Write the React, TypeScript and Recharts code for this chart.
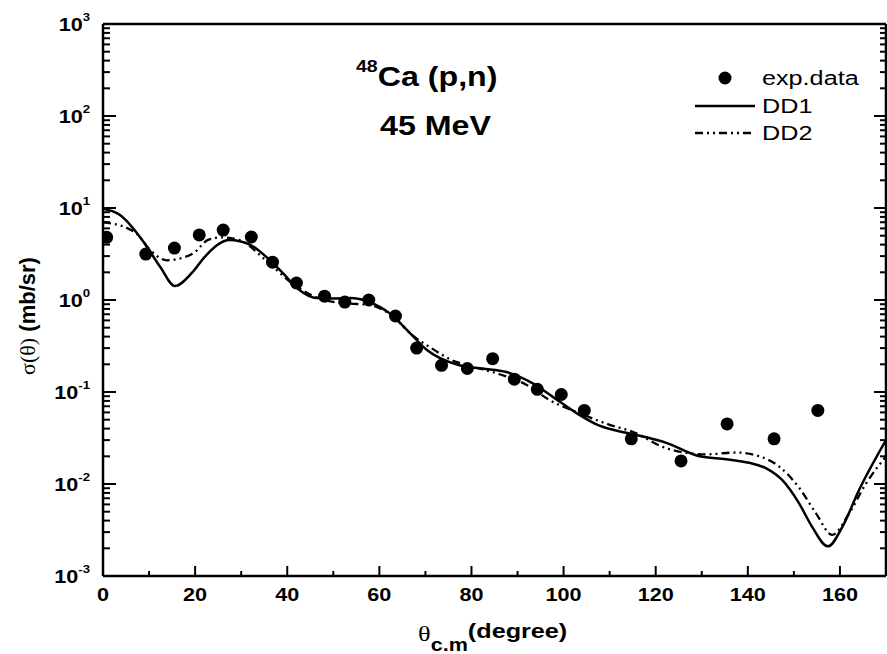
import React from 'react'
import { ComposedChart, Line, Scatter, XAxis, YAxis } from 'recharts'

const expAngle = [0.8, 9.3, 15.5, 20.9, 26.1, 32.2, 36.8, 42, 48.1, 52.5, 57.7, 63.5, 68.1, 73.5, 79.1, 84.6, 89.3, 94.3, 99.5, 104.5, 114.7, 125.5, 135.5, 145.7, 155.2]
const expSigma = [4.8, 3.16, 3.67, 5.1, 5.75, 4.84, 2.58, 1.53, 1.1, 0.95, 1.0, 0.67, 0.3, 0.195, 0.18, 0.23, 0.138, 0.107, 0.094, 0.063, 0.031, 0.0178, 0.045, 0.031, 0.063]

// DD1 (solid)
const dd1Angle = [0, 3.7, 8.5, 12.4, 15.6, 19.3, 22.1, 27.5, 31.9, 35.6, 39, 42.7, 46.4, 50, 53.6, 57.9, 62.2, 66.6, 70.2, 77.4, 82.4, 87.6, 93.2, 97.6, 102.8, 107.8, 113.6, 118.2, 122.3, 129.5, 135.3, 140.3, 144, 147.5, 151.1, 154, 157.4, 160.5, 164.1, 170]
const dd1Sigma = [9.8, 8.4, 4.5, 2.3, 1.42, 1.97, 2.95, 4.5, 4.0, 2.9, 1.97, 1.28, 1.05, 1.04, 1.05, 0.95, 0.72, 0.44, 0.29, 0.195, 0.18, 0.165, 0.125, 0.089, 0.059, 0.043, 0.036, 0.032, 0.028, 0.02, 0.0186, 0.017, 0.0148, 0.011, 0.0062, 0.0034, 0.0021, 0.0034, 0.0085, 0.03]

// DD2 (dash-dot-dot)
const dd2Angle = [0, 5.4, 7.6, 9.8, 13.9, 16.3, 19.9, 22.8, 25.8, 30, 35, 42, 48, 53, 58, 63, 67, 71.3, 75.9, 80, 85.4, 91.9, 96.9, 103.4, 110, 115, 122.3, 131, 137.5, 142.5, 146.8, 151, 154.8, 158.3, 162, 165.6, 170]
const dd2Sigma = [7.0, 6.0, 5.1, 3.7, 2.7, 2.8, 3.3, 4.5, 4.8, 4.4, 2.8, 1.4, 1.0, 0.92, 0.88, 0.66, 0.42, 0.3, 0.22, 0.19, 0.16, 0.12, 0.082, 0.059, 0.044, 0.037, 0.0245, 0.021, 0.022, 0.02, 0.0155, 0.0093, 0.0048, 0.0028, 0.0048, 0.01, 0.02]

const xTicks = [0, 10, 20, 30, 40, 50, 60, 70, 80, 90, 100, 110, 120, 130, 140, 150, 160, 170]
const yDecades = [0.001, 0.01, 0.1, 1, 10, 100]
const yMultipliers = [1, 2, 3, 4, 5, 6, 7, 8, 9]
const yTicks = yDecades.flatMap((d) => yMultipliers.map((m) => m * d)).concat([1000])

const expData = expAngle.map((x, i) => ({ x, y: expSigma[i] }))
const dd1Data = dd1Angle.map((x, i) => ({ x, y: dd1Sigma[i] }))
const dd2Data = dd2Angle.map((x, i) => ({ x, y: dd2Sigma[i] }))

const FONT = '"Liberation Sans", Arial, Helvetica, sans-serif'
const SERIF = '"Liberation Serif", "DejaVu Serif", serif'
const DASH = '8 4 2 4 2 4'

function Stretch({ x, y, size, weight = 'normal', anchor = 'start', sx = 1.2, family = FONT, children }: any) {
  return (
    <text
      transform={`translate(${x} ${y}) scale(${sx} 1)`}
      textAnchor={anchor}
      fontSize={size}
      fontWeight={weight}
      fontFamily={family}
      fill="#000"
    >
      {children}
    </text>
  )
}

const isMajor = (v: number) => {
  const l = Math.log10(v)
  return Math.abs(l - Math.round(l)) < 1e-9
}

const BottomTick = ({ x, y, payload }: any) => {
  const major = payload.value % 20 === 0
  return (
    <g>
      <line x1={x} x2={x} y1={y} y2={y - (major ? 10 : 5)} stroke="#000" strokeWidth={2} />
      {major && (
        <Stretch x={x} y={y + 25} size={18} weight="bold" anchor="middle">
          {payload.value}
        </Stretch>
      )}
    </g>
  )
}

const TopTick = ({ x, y, payload }: any) => {
  const major = payload.value % 20 === 0
  return <line x1={x} x2={x} y1={y} y2={y + (major ? 10 : 5)} stroke="#000" strokeWidth={2} />
}

const LeftTick = ({ x, y, payload }: any) => {
  const major = isMajor(payload.value)
  const exp = Math.round(Math.log10(payload.value))
  return (
    <g>
      <line x1={x} x2={x + (major ? 13 : 7)} y1={y} y2={y} stroke="#000" strokeWidth={2} />
      {major && (
        <Stretch x={x - 13} y={y + 7} size={18} weight="bold" anchor="end">
          <tspan>10</tspan>
          <tspan fontSize={11} dy={-10}>{exp}</tspan>
        </Stretch>
      )}
    </g>
  )
}

const RightTick = ({ x, y, payload }: any) => {
  const major = isMajor(payload.value)
  return <line x1={x} x2={x - (major ? 12 : 6)} y1={y} y2={y} stroke="#000" strokeWidth={2} />
}

const ExpDot = ({ cx, cy }: any) => <circle cx={cx} cy={cy} r={6.5} fill="#000" />

export default function App() {
  return (
    <div style={{ position: 'absolute', left: 0, top: 0, width: 887, height: 654, background: '#fff' }}>
      <ComposedChart width={887} height={654} margin={{ top: 23, right: 0, bottom: 48, left: 43 }}>
        <XAxis
          xAxisId={0}
          dataKey="x"
          type="number"
          domain={[0, 170]}
          ticks={xTicks}
          interval={0}
          height={30}
          tickSize={0}
          tickMargin={0}
          tickLine={false}
          tick={<BottomTick />}
          axisLine={{ stroke: '#000', strokeWidth: 2.5 }}
          allowDataOverflow
        />
        <XAxis
          xAxisId="top"
          orientation="top"
          type="number"
          domain={[0, 170]}
          ticks={xTicks}
          interval={0}
          height={1}
          tickSize={0}
          tickMargin={0}
          tickLine={false}
          tick={<TopTick />}
          axisLine={{ stroke: '#000', strokeWidth: 2.5 }}
          allowDataOverflow
        />
        <YAxis
          yAxisId={0}
          type="number"
          scale="log"
          domain={[0.001, 1000]}
          ticks={yTicks}
          interval={0}
          width={60}
          tickSize={0}
          tickMargin={0}
          tickLine={false}
          tick={<LeftTick />}
          axisLine={{ stroke: '#000', strokeWidth: 2.5 }}
          allowDataOverflow
        />
        <YAxis
          yAxisId="right"
          orientation="right"
          type="number"
          scale="log"
          domain={[0.001, 1000]}
          ticks={yTicks}
          interval={0}
          width={1}
          tickSize={0}
          tickMargin={0}
          tickLine={false}
          tick={<RightTick />}
          axisLine={{ stroke: '#000', strokeWidth: 2.5 }}
          allowDataOverflow
        />
        <Line
          data={dd1Data}
          dataKey="y"
          type="monotone"
          stroke="#000"
          strokeWidth={2.5}
          dot={false}
          activeDot={false}
          isAnimationActive={false}
        />
        <Line
          data={dd2Data}
          dataKey="y"
          type="monotone"
          stroke="#000"
          strokeWidth={2.3}
          strokeDasharray={DASH}
          dot={false}
          activeDot={false}
          isAnimationActive={false}
        />
        <Scatter data={expData} dataKey="y" shape={<ExpDot />} isAnimationActive={false} />
      </ComposedChart>

      <svg width={887} height={654} style={{ position: 'absolute', left: 0, top: 0, pointerEvents: 'none' }}>
        {/* title */}
        <Stretch x={356} y={86} size={28} weight="bold" sx={1.15}>
          <tspan fontSize={17} dy={-14}>48</tspan>
          <tspan dy={14}>Ca (p,n)</tspan>
        </Stretch>
        <Stretch x={380} y={135} size={28} weight="bold" sx={1.15}>
          45 MeV
        </Stretch>

        {/* legend */}
        <circle cx={725} cy={78} r={6.5} fill="#000" />
        <Stretch x={762} y={85} size={21}>exp.data</Stretch>
        <line x1={695} x2={755} y1={106} y2={106} stroke="#000" strokeWidth={2.5} />
        <Stretch x={762} y={113} size={21}>DD1</Stretch>
        <line x1={695} x2={755} y1={133} y2={133} stroke="#000" strokeWidth={2.3} strokeDasharray={DASH} />
        <Stretch x={762} y={140} size={21}>DD2</Stretch>

        {/* y axis label */}
        <text transform="translate(35 316) rotate(-90)" textAnchor="middle" fontSize={22} fill="#000">
          <tspan fontFamily={SERIF}>σ(θ)</tspan>
          <tspan fontFamily={FONT} fontWeight="bold"> (mb/sr)</tspan>
        </text>

        {/* x axis label */}
        <Stretch x={418} y={641} size={22} family={SERIF}>
          <tspan>θ</tspan>
          <tspan fontFamily={FONT} fontWeight="bold" fontSize={18} dy={10}>c.m</tspan>
          <tspan fontFamily={FONT} fontWeight="bold" fontSize={21} dy={-13}>(degree)</tspan>
        </Stretch>
      </svg>
    </div>
  )
}
